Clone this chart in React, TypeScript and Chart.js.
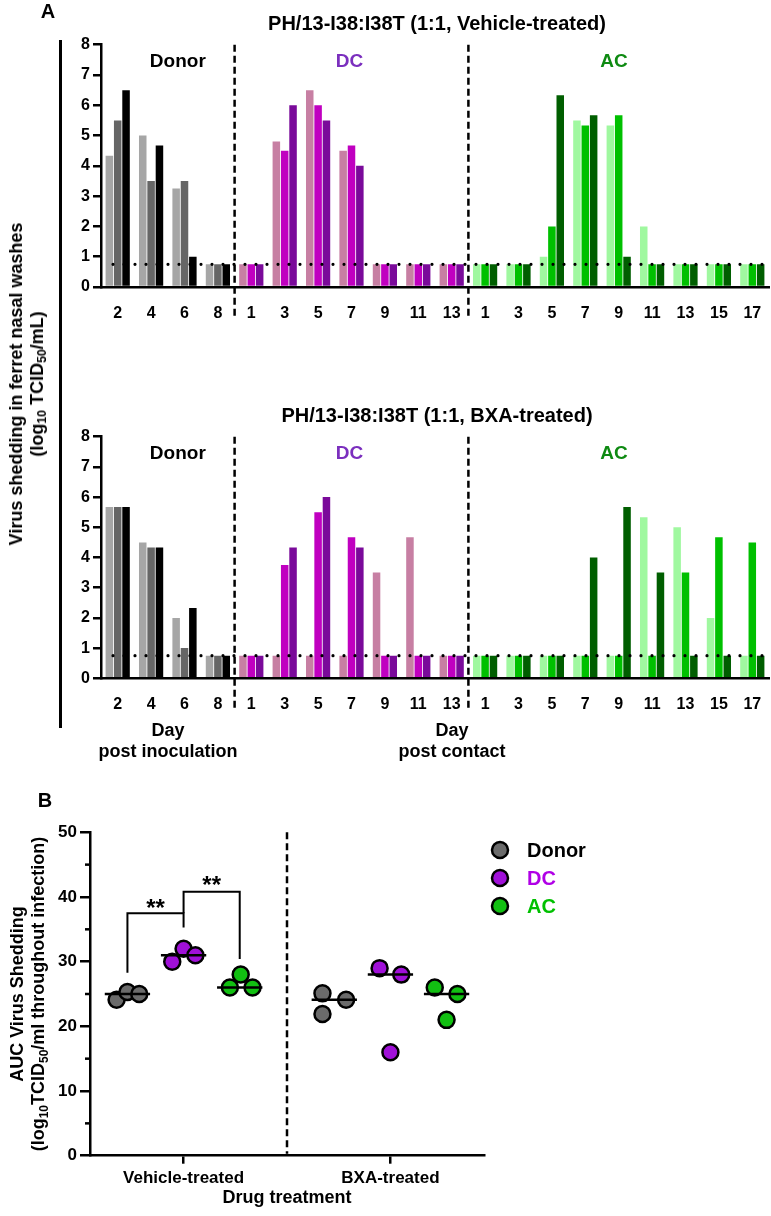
import React, { useEffect, useRef } from 'react';
import { Chart, registerables } from 'chart.js';

Chart.register(...registerables);

const FONT = 'Arial, "Liberation Sans", Helvetica, sans-serif';

// ---------------- Panel A data ----------------
const donorDays = ['2', '4', '6', '8'];
const dcDays = ['1', '3', '5', '7', '9', '11', '13'];
const acDays = ['1', '3', '5', '7', '9', '11', '13', '15', '17'];
const detectionLimit = 0.75;
const sectionNames = ['Donor', 'DC', 'AC'];

// Vehicle-treated (one array per animal, values per day)
const vehDonor1 = [4.33, 5.0, 3.25, 0.75];
const vehDonor2 = [5.5, 3.5, 3.5, 0.75];
const vehDonor3 = [6.5, 4.67, 1.0, 0.75];
const vehDC1 = [0.75, 4.8, 6.5, 4.5, 0.75, 0.75, 0.75];
const vehDC2 = [0.75, 4.5, 6.0, 4.67, 0.75, 0.75, 0.75];
const vehDC3 = [0.75, 6.0, 5.5, 4.0, 0.75, 0.75, 0.75];
const vehAC1 = [0.75, 0.75, 1.0, 5.5, 5.33, 2.0, 0.75, 0.75, 0.75];
const vehAC2 = [0.75, 0.75, 2.0, 5.33, 5.67, 0.75, 0.75, 0.75, 0.75];
const vehAC3 = [0.75, 0.75, 6.33, 5.67, 1.0, 0.75, 0.75, 0.75, 0.75];

// BXA-treated
const bxaDonor1 = [5.67, 4.5, 2.0, 0.75];
const bxaDonor2 = [5.67, 4.33, 1.0, 0.75];
const bxaDonor3 = [5.67, 4.33, 2.33, 0.75];
const bxaDC1 = [0.75, 0.75, 0.75, 0.75, 3.5, 4.67, 0.75];
const bxaDC2 = [0.75, 3.75, 5.5, 4.67, 0.75, 0.75, 0.75];
const bxaDC3 = [0.75, 4.33, 6.0, 4.33, 0.75, 0.75, 0.75];
const bxaAC1 = [0.75, 0.75, 0.75, 0.75, 0.75, 5.33, 5.0, 2.0, 0.75];
const bxaAC2 = [0.75, 0.75, 0.75, 0.75, 0.75, 0.75, 3.5, 4.67, 4.5];
const bxaAC3 = [0.75, 0.75, 0.75, 4.0, 5.67, 3.5, 0.75, 0.75, 0.75];

// ---------------- Panel B data ----------------
const treatments = ['Vehicle-treated', 'BXA-treated'];
const groupNames = ['Donor', 'DC', 'AC'];
const aucDonor = [[24.1, 25.3, 25.0], [25.1, 21.9, 24.1]];
const aucDC = [[30.0, 32.0, 31.0], [29.0, 16.0, 28.0]];
const aucAC = [[26.0, 28.0, 26.0], [26.0, 21.0, 25.0]];
const yTicksB = [0, 10, 20, 30, 40, 50];

// ---------------- styles ----------------
const donorColors = ['#a6a6a6', '#666666', '#000000'];
const dcColors = ['#c77fa3', '#c000c0', '#7a0a9a'];
const acColors = ['#a0f8a0', '#00c000', '#005e00'];
const sectionLabelColors = ['#000000', '#7b2fbe', '#0e8a12'];
const pointFill = ['#6b6b6b', '#a010d8', '#12c012'];
const legendTextColors = ['#000000', '#b000e6', '#00c000'];

// layout constants for panel B x positions
const treatmentX = [0.95, 3.05];
const groupOffset = [-0.57, 0, 0.57];
const jitter = [
  [[-0.11, 0, 0.12], [-0.12, -0.12, 0.12]],
  [[-0.115, 0, 0.12], [-0.11, 0, 0.11]],
  [[-0.1, 0.01, 0.13], [-0.12, 0, 0.11]],
];

function median(v: number[]) {
  const s = [...v].sort((a, b) => a - b);
  return s[Math.floor(s.length / 2)];
}

function makeBarDecor(opts: { title: string; letter?: string; dayLabels: boolean }) {
  return {
    id: 'barDecor',
    afterDatasetsDraw(chart: any) {
      const { ctx, chartArea: a } = chart;
      const yS = chart.scales.y;
      const n = chart.data.labels.length;
      const w = (a.right - a.left) / n;
      const px = (idx: number) => a.left + (idx + 0.5) * w;
      ctx.save();
      // detection limit dotted line
      const ly = yS.getPixelForValue(detectionLimit);
      ctx.strokeStyle = '#000';
      ctx.lineWidth = 3.2;
      ctx.lineCap = 'round';
      ctx.setLineDash([0, 11]);
      ctx.beginPath();
      ctx.moveTo(a.left + 12, ly);
      ctx.lineTo(a.right, ly);
      ctx.stroke();
      // dashed separators
      ctx.lineCap = 'butt';
      ctx.lineWidth = 2.5;
      ctx.setLineDash([7, 4]);
      [donorDays.length, donorDays.length + dcDays.length].forEach((k) => {
        const sx = a.left + k * w;
        ctx.beginPath();
        ctx.moveTo(sx, a.top);
        ctx.lineTo(sx, a.bottom + 30);
        ctx.stroke();
      });
      ctx.setLineDash([]);
      // section labels
      ctx.textAlign = 'center';
      ctx.textBaseline = 'middle';
      ctx.font = `bold 19px ${FONT}`;
      const labelIdx = [1.8, 6.94, 14.86];
      sectionNames.forEach((s, i) => {
        ctx.fillStyle = sectionLabelColors[i];
        ctx.fillText(s, px(labelIdx[i]), a.top + 17);
      });
      // title
      ctx.fillStyle = '#000';
      ctx.font = `bold 20px ${FONT}`;
      ctx.fillText(opts.title, 437, a.top - 20);
      if (opts.letter) {
        ctx.font = `bold 20px ${FONT}`;
        ctx.fillText(opts.letter, 48, 12);
      }
      if (opts.dayLabels) {
        ctx.font = `bold 18px ${FONT}`;
        ctx.fillText('Day', 168, a.bottom + 53);
        ctx.fillText('post inoculation', 168, a.bottom + 74);
        ctx.fillText('Day', 452, a.bottom + 53);
        ctx.fillText('post contact', 452, a.bottom + 74);
      }
      ctx.restore();
    },
  };
}

function BarPanel(props: {
  top: number;
  height: number;
  plotTop: number;
  plotBottom: number;
  title: string;
  letter?: string;
  dayLabels: boolean;
  donor: number[][];
  dc: number[][];
  ac: number[][];
}) {
  const ref = useRef<HTMLCanvasElement>(null);
  useEffect(() => {
    const labels = [...donorDays, ...dcDays, ...acDays];
    const nD = donorDays.length;
    const nDC = dcDays.length;
    const datasets = [0, 1, 2].map((i) => ({
      label: `Animal ${i + 1}`,
      data: [...props.donor[i], ...props.dc[i], ...props.ac[i]],
      backgroundColor: labels.map((_, j) =>
        j < nD ? donorColors[i] : j < nD + nDC ? dcColors[i] : acColors[i]
      ),
      borderWidth: 0,
      categoryPercentage: 0.75,
      barPercentage: 0.9,
    }));
    const xH = props.height - props.plotBottom;
    const chart = new Chart(ref.current as HTMLCanvasElement, {
      type: 'bar',
      data: { labels, datasets },
      options: {
        responsive: false,
        animation: false,
        layout: { padding: { top: props.plotTop, right: 2, left: 0, bottom: 0 } },
        plugins: { legend: { display: false }, tooltip: { enabled: false }, title: { display: false } },
        scales: {
          x: {
            type: 'category',
            grid: { display: false },
            border: { display: true, color: '#000', width: 2.5 },
            ticks: {
              color: '#000',
              font: { family: FONT, size: 16, weight: 'bold' },
              padding: 9,
              autoSkip: false,
              maxRotation: 0,
              minRotation: 0,
            },
            afterFit: (s: any) => {
              s.height = xH;
            },
          },
          y: {
            min: 0,
            max: 8,
            ticks: {
              stepSize: 1,
              color: '#000',
              font: { family: FONT, size: 16, weight: 'bold' },
              padding: 3,
            },
            grid: { drawOnChartArea: false, drawTicks: true, tickLength: 8, color: '#000', lineWidth: 2.5 },
            border: { display: true, color: '#000', width: 2.5 },
            afterFit: (s: any) => {
              s.width = 101;
            },
          },
        },
      } as any,
      plugins: [makeBarDecor({ title: props.title, letter: props.letter, dayLabels: props.dayLabels })],
    });
    return () => chart.destroy();
  }, []);
  return (
    <canvas
      ref={ref}
      width={771}
      height={props.height}
      style={{ position: 'absolute', left: 0, top: props.top, width: 771, height: props.height }}
    />
  );
}

function drawRich(ctx: any, parts: { t: string; sub?: boolean }[], cx: number, cy: number, size: number) {
  ctx.save();
  ctx.translate(cx, cy);
  ctx.rotate(-Math.PI / 2);
  const big = `bold ${size}px ${FONT}`;
  const small = `bold ${Math.round(size * 0.68)}px ${FONT}`;
  let total = 0;
  parts.forEach((p) => {
    ctx.font = p.sub ? small : big;
    total += ctx.measureText(p.t).width;
  });
  let xx = -total / 2;
  ctx.textAlign = 'left';
  ctx.textBaseline = 'alphabetic';
  ctx.fillStyle = '#000';
  parts.forEach((p) => {
    ctx.font = p.sub ? small : big;
    ctx.fillText(p.t, xx, size * 0.36 + (p.sub ? size * 0.22 : 0));
    xx += ctx.measureText(p.t).width;
  });
  ctx.restore();
}

const aucDecor = {
  id: 'aucDecor',
  beforeDatasetsDraw(chart: any) {
    const { ctx, chartArea: a, scales } = chart;
    const xS = scales.x;
    const yS = scales.y;
    ctx.save();
    // dashed separator between treatments
    const sx = xS.getPixelForValue((treatmentX[0] + treatmentX[1]) / 2);
    ctx.strokeStyle = '#000';
    ctx.lineWidth = 2.5;
    ctx.setLineDash([7, 4]);
    ctx.beginPath();
    ctx.moveTo(sx, a.top);
    ctx.lineTo(sx, a.bottom - 2);
    ctx.stroke();
    ctx.setLineDash([]);
    // minor ticks
    for (let v = 5; v < 50; v += 10) {
      const yy = yS.getPixelForValue(v);
      ctx.beginPath();
      ctx.moveTo(a.left - 5, yy);
      ctx.lineTo(a.left, yy);
      ctx.stroke();
    }
    ctx.restore();
  },
  afterDatasetsDraw(chart: any) {
    const { ctx, chartArea: a, scales } = chart;
    const xS = scales.x;
    const yS = scales.y;
    const X = (v: number) => xS.getPixelForValue(v);
    const Y = (v: number) => yS.getPixelForValue(v);
    ctx.save();
    ctx.strokeStyle = '#000';
    ctx.fillStyle = '#000';
    // medians
    ctx.lineWidth = 2.5;
    const groups = [aucDonor, aucDC, aucAC];
    groups.forEach((g, gi) => {
      g.forEach((vals, ti) => {
        const cx = treatmentX[ti] + groupOffset[gi];
        const m = median(vals);
        ctx.beginPath();
        ctx.moveTo(X(cx - 0.23), Y(m));
        ctx.lineTo(X(cx + 0.23), Y(m));
        ctx.stroke();
      });
    });
    // significance brackets
    ctx.lineWidth = 2;
    const g0 = treatmentX[0] + groupOffset[0];
    const g1 = treatmentX[0] + groupOffset[1];
    const g2 = treatmentX[0] + groupOffset[2];
    ctx.beginPath();
    ctx.moveTo(X(g0), Y(28.3));
    ctx.lineTo(X(g0), Y(37.5));
    ctx.lineTo(X(g1), Y(37.5));
    ctx.lineTo(X(g1), Y(35.3));
    ctx.stroke();
    ctx.beginPath();
    ctx.moveTo(X(g1), Y(37.5));
    ctx.lineTo(X(g1), Y(40.8));
    ctx.lineTo(X(g2), Y(40.8));
    ctx.lineTo(X(g2), Y(30.4));
    ctx.stroke();
    ctx.font = `bold 24px ${FONT}`;
    ctx.textAlign = 'center';
    ctx.textBaseline = 'alphabetic';
    ctx.fillText('**', (X(g0) + X(g1)) / 2, Y(37.5) + 3);
    ctx.fillText('**', (X(g1) + X(g2)) / 2, Y(40.8) + 1);
    // legend
    groupNames.forEach((name, i) => {
      const ly = 80 + i * 28;
      ctx.beginPath();
      ctx.arc(500, ly, 8, 0, Math.PI * 2);
      ctx.fillStyle = pointFill[i];
      ctx.fill();
      ctx.lineWidth = 2.5;
      ctx.strokeStyle = '#000';
      ctx.stroke();
      ctx.fillStyle = legendTextColors[i];
      ctx.font = `bold 20px ${FONT}`;
      ctx.textAlign = 'left';
      ctx.textBaseline = 'middle';
      ctx.fillText(name, 527, ly + 1);
    });
    // panel letter
    ctx.fillStyle = '#000';
    ctx.font = `bold 20px ${FONT}`;
    ctx.textAlign = 'center';
    ctx.textBaseline = 'middle';
    ctx.fillText('B', 45, 31);
    // x axis title
    ctx.font = `bold 18px ${FONT}`;
    ctx.fillText('Drug treatment', (a.left + a.right) / 2, a.bottom + 42);
    // y axis title
    const cy = (a.top + a.bottom) / 2;
    drawRich(ctx, [{ t: 'AUC Virus Shedding' }], 17, cy, 18);
    drawRich(
      ctx,
      [{ t: '(log' }, { t: '10', sub: true }, { t: 'TCID' }, { t: '50', sub: true }, { t: '/ml throughout infection)' }],
      38,
      cy,
      18
    );
    ctx.restore();
  },
};

function AucPanel({ top, height }: { top: number; height: number }) {
  const ref = useRef<HTMLCanvasElement>(null);
  useEffect(() => {
    const groups = [aucDonor, aucDC, aucAC];
    const datasets = groups.map((g, gi) => ({
      label: groupNames[gi],
      data: g.flatMap((vals, ti) =>
        vals.map((v, k) => ({ x: treatmentX[ti] + groupOffset[gi] + jitter[gi][ti][k], y: v }))
      ),
      backgroundColor: pointFill[gi],
      borderColor: '#000',
      borderWidth: 2.5,
      pointRadius: 8,
      showLine: false,
    }));
    const plotTop = 62.3;
    const plotBottom = 385.7;
    const chart = new Chart(ref.current as HTMLCanvasElement, {
      type: 'scatter',
      data: { datasets },
      options: {
        responsive: false,
        animation: false,
        layout: { padding: { top: plotTop, right: 287, left: 0, bottom: 0 } },
        plugins: { legend: { display: false }, tooltip: { enabled: false } },
        scales: {
          x: {
            type: 'linear',
            min: 0,
            max: 4,
            afterBuildTicks: (s: any) => {
              s.ticks = treatmentX.map((v) => ({ value: v }));
            },
            ticks: {
              color: '#000',
              font: { family: FONT, size: 17, weight: 'bold' },
              padding: 4,
              maxRotation: 0,
              callback: (_v: any, i: number) => treatments[i],
            },
            grid: { drawOnChartArea: false, drawTicks: true, tickLength: 8, color: '#000', lineWidth: 2.5 },
            border: { display: true, color: '#000', width: 2.5 },
            afterFit: (s: any) => {
              s.height = height - plotBottom;
            },
          },
          y: {
            min: 0,
            max: 50,
            afterBuildTicks: (s: any) => {
              s.ticks = yTicksB.map((v) => ({ value: v }));
            },
            ticks: {
              color: '#000',
              font: { family: FONT, size: 17, weight: 'bold' },
              padding: 3,
            },
            grid: { drawOnChartArea: false, drawTicks: true, tickLength: 10, color: '#000', lineWidth: 2.5 },
            border: { display: true, color: '#000', width: 2.5 },
            afterFit: (s: any) => {
              s.width = 90;
            },
          },
        },
      } as any,
      plugins: [aucDecor],
    });
    return () => chart.destroy();
  }, []);
  return (
    <canvas
      ref={ref}
      width={771}
      height={height}
      style={{ position: 'absolute', left: 0, top, width: 771, height }}
    />
  );
}

export default function App() {
  return (
    <div style={{ position: 'absolute', left: 0, top: 0, width: 771, height: 1216, background: '#fff', fontFamily: FONT }}>
      <BarPanel
        top={0}
        height={330}
        plotTop={44.7}
        plotBottom={287}
        title="PH/13-I38:I38T (1:1, Vehicle-treated)"
        letter="A"
        dayLabels={false}
        donor={[vehDonor1, vehDonor2, vehDonor3]}
        dc={[vehDC1, vehDC2, vehDC3]}
        ac={[vehAC1, vehAC2, vehAC3]}
      />
      <BarPanel
        top={330}
        height={440}
        plotTop={106.7}
        plotBottom={348.3}
        title="PH/13-I38:I38T (1:1, BXA-treated)"
        dayLabels={true}
        donor={[bxaDonor1, bxaDonor2, bxaDonor3]}
        dc={[bxaDC1, bxaDC2, bxaDC3]}
        ac={[bxaAC1, bxaAC2, bxaAC3]}
      />
      <AucPanel top={770} height={446} />
      <div style={{ position: 'absolute', left: 59, top: 40, width: 2.5, height: 688, background: '#000' }} />
      <div
        style={{
          position: 'absolute',
          left: 27,
          top: 384,
          transform: 'translate(-50%, -50%) rotate(-90deg)',
          whiteSpace: 'nowrap',
          fontWeight: 'bold',
          fontSize: 18,
          lineHeight: '21px',
          textAlign: 'center',
          color: '#000',
        }}
      >
        Virus shedding in ferret nasal washes
        <br />
        (log
        <sub style={{ fontSize: '0.68em', lineHeight: 0, verticalAlign: '-0.25em' }}>10</sub> TCID
        <sub style={{ fontSize: '0.68em', lineHeight: 0, verticalAlign: '-0.25em' }}>50</sub>/mL)
      </div>
    </div>
  );
}
